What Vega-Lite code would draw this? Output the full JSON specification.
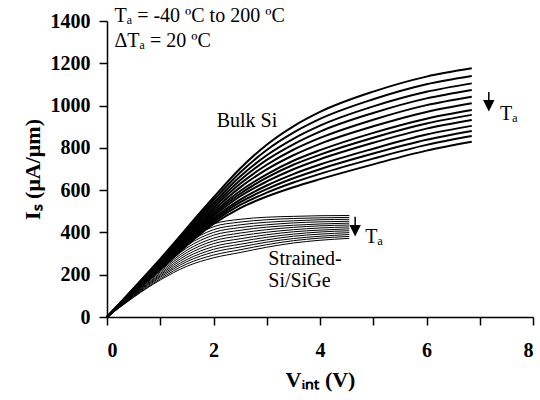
{
  "$schema": "https://vega.github.io/schema/vega-lite/v6.json",
  "autosize": "none",
  "width": 426,
  "height": 296,
  "padding": {"left": 107, "top": 21, "right": 7, "bottom": 83},
  "background": "white",
  "config": {
    "view": {"stroke": null},
    "font": "Liberation Serif",
    "axis": {
      "grid": false,
      "domainColor": "black",
      "domainWidth": 1.5,
      "tickColor": "black",
      "tickWidth": 1.5,
      "tickSize": 8,
      "labelFont": "Liberation Serif",
      "labelFontWeight": "bold",
      "labelFontSize": 20,
      "labelColor": "black",
      "titleFont": "Liberation Serif",
      "titleFontWeight": "bold",
      "titleFontSize": 22,
      "titleColor": "black"
    }
  },
  "datasets": {
    "bulk": [
      {"T":-40,"V":0,"I":0},{"T":-40,"V":1,"I":275},{"T":-40,"V":2,"I":565},{"T":-40,"V":2.5,"I":702},{"T":-40,"V":3,"I":815},{"T":-40,"V":3.5,"I":902},{"T":-40,"V":4,"I":970},{"T":-40,"V":5,"I":1066},{"T":-40,"V":6,"I":1137},{"T":-40,"V":6.85,"I":1176},
      {"T":-20,"V":0,"I":0},{"T":-20,"V":1,"I":270},{"T":-20,"V":2,"I":552},{"T":-20,"V":2.5,"I":683},{"T":-20,"V":3,"I":790},{"T":-20,"V":3.5,"I":872},{"T":-20,"V":4,"I":937},{"T":-20,"V":5,"I":1030},{"T":-20,"V":6,"I":1101},{"T":-20,"V":6.85,"I":1140},
      {"T":0,"V":0,"I":0},{"T":0,"V":1,"I":265},{"T":0,"V":2,"I":539},{"T":0,"V":2.5,"I":664},{"T":0,"V":3,"I":765},{"T":0,"V":3.5,"I":843},{"T":0,"V":4,"I":905},{"T":0,"V":5,"I":996},{"T":0,"V":6,"I":1065},{"T":0,"V":6.85,"I":1105},
      {"T":20,"V":0,"I":0},{"T":20,"V":1,"I":260},{"T":20,"V":2,"I":528},{"T":20,"V":2.5,"I":647},{"T":20,"V":3,"I":743},{"T":20,"V":3.5,"I":817},{"T":20,"V":4,"I":877},{"T":20,"V":5,"I":965},{"T":20,"V":6,"I":1034},{"T":20,"V":6.85,"I":1074},
      {"T":40,"V":0,"I":0},{"T":40,"V":1,"I":256},{"T":40,"V":2,"I":517},{"T":40,"V":2.5,"I":630},{"T":40,"V":3,"I":720},{"T":40,"V":3.5,"I":791},{"T":40,"V":4,"I":847},{"T":40,"V":5,"I":933},{"T":40,"V":6,"I":1002},{"T":40,"V":6.85,"I":1042},
      {"T":60,"V":0,"I":0},{"T":60,"V":1,"I":251},{"T":60,"V":2,"I":505},{"T":60,"V":2.5,"I":613},{"T":60,"V":3,"I":698},{"T":60,"V":3.5,"I":765},{"T":60,"V":4,"I":819},{"T":60,"V":5,"I":902},{"T":60,"V":6,"I":970},{"T":60,"V":6.85,"I":1011},
      {"T":80,"V":0,"I":0},{"T":80,"V":1,"I":247},{"T":80,"V":2,"I":494},{"T":80,"V":2.5,"I":596},{"T":80,"V":3,"I":675},{"T":80,"V":3.5,"I":739},{"T":80,"V":4,"I":789},{"T":80,"V":5,"I":871},{"T":80,"V":6,"I":938},{"T":80,"V":6.85,"I":979},
      {"T":100,"V":0,"I":0},{"T":100,"V":1,"I":243},{"T":100,"V":2,"I":486},{"T":100,"V":2.5,"I":583},{"T":100,"V":3,"I":659},{"T":100,"V":3.5,"I":720},{"T":100,"V":4,"I":768},{"T":100,"V":5,"I":848},{"T":100,"V":6,"I":915},{"T":100,"V":6.85,"I":956},
      {"T":120,"V":0,"I":0},{"T":120,"V":1,"I":240},{"T":120,"V":2,"I":477},{"T":120,"V":2.5,"I":571},{"T":120,"V":3,"I":641},{"T":120,"V":3.5,"I":699},{"T":120,"V":4,"I":746},{"T":120,"V":5,"I":824},{"T":120,"V":6,"I":891},{"T":120,"V":6.85,"I":932},
      {"T":140,"V":0,"I":0},{"T":140,"V":1,"I":236},{"T":140,"V":2,"I":467},{"T":140,"V":2.5,"I":555},{"T":140,"V":3,"I":622},{"T":140,"V":3.5,"I":676},{"T":140,"V":4,"I":721},{"T":140,"V":5,"I":796},{"T":140,"V":6,"I":863},{"T":140,"V":6.85,"I":904},
      {"T":160,"V":0,"I":0},{"T":160,"V":1,"I":232},{"T":160,"V":2,"I":458},{"T":160,"V":2.5,"I":543},{"T":160,"V":3,"I":605},{"T":160,"V":3.5,"I":656},{"T":160,"V":4,"I":699},{"T":160,"V":5,"I":773},{"T":160,"V":6,"I":838},{"T":160,"V":6.85,"I":880},
      {"T":180,"V":0,"I":0},{"T":180,"V":1,"I":229},{"T":180,"V":2,"I":450},{"T":180,"V":2.5,"I":530},{"T":180,"V":3,"I":588},{"T":180,"V":3.5,"I":636},{"T":180,"V":4,"I":677},{"T":180,"V":5,"I":749},{"T":180,"V":6,"I":814},{"T":180,"V":6.85,"I":856},
      {"T":200,"V":0,"I":0},{"T":200,"V":1,"I":225},{"T":200,"V":2,"I":440},{"T":200,"V":2.5,"I":515},{"T":200,"V":3,"I":570},{"T":200,"V":3.5,"I":614},{"T":200,"V":4,"I":652},{"T":200,"V":5,"I":722},{"T":200,"V":6,"I":787},{"T":200,"V":6.85,"I":829}
    ],
    "strained": [
      {"T":-40,"V":0,"I":0},{"T":-40,"V":1,"I":250},{"T":-40,"V":1.5,"I":370},{"T":-40,"V":2,"I":440},{"T":-40,"V":2.5,"I":462},{"T":-40,"V":3,"I":472},{"T":-40,"V":3.5,"I":476},{"T":-40,"V":4,"I":479},{"T":-40,"V":4.55,"I":480},
      {"T":-20,"V":0,"I":0},{"T":-20,"V":1,"I":244},{"T":-20,"V":1.5,"I":359},{"T":-20,"V":2,"I":427},{"T":-20,"V":2.5,"I":449},{"T":-20,"V":3,"I":460},{"T":-20,"V":3.5,"I":466},{"T":-20,"V":4,"I":469},{"T":-20,"V":4.55,"I":471},
      {"T":0,"V":0,"I":0},{"T":0,"V":1,"I":238},{"T":0,"V":1.5,"I":348},{"T":0,"V":2,"I":413},{"T":0,"V":2.5,"I":436},{"T":0,"V":3,"I":448},{"T":0,"V":3.5,"I":455},{"T":0,"V":4,"I":460},{"T":0,"V":4.55,"I":462},
      {"T":20,"V":0,"I":0},{"T":20,"V":1,"I":231},{"T":20,"V":1.5,"I":338},{"T":20,"V":2,"I":400},{"T":20,"V":2.5,"I":423},{"T":20,"V":3,"I":436},{"T":20,"V":3.5,"I":445},{"T":20,"V":4,"I":450},{"T":20,"V":4.55,"I":453},
      {"T":40,"V":0,"I":0},{"T":40,"V":1,"I":225},{"T":40,"V":1.5,"I":327},{"T":40,"V":2,"I":387},{"T":40,"V":2.5,"I":410},{"T":40,"V":3,"I":425},{"T":40,"V":3.5,"I":434},{"T":40,"V":4,"I":440},{"T":40,"V":4.55,"I":444},
      {"T":60,"V":0,"I":0},{"T":60,"V":1,"I":219},{"T":60,"V":1.5,"I":316},{"T":60,"V":2,"I":373},{"T":60,"V":2.5,"I":397},{"T":60,"V":3,"I":413},{"T":60,"V":3.5,"I":424},{"T":60,"V":4,"I":431},{"T":60,"V":4.55,"I":435},
      {"T":80,"V":0,"I":0},{"T":80,"V":1,"I":213},{"T":80,"V":1.5,"I":305},{"T":80,"V":2,"I":360},{"T":80,"V":2.5,"I":384},{"T":80,"V":3,"I":401},{"T":80,"V":3.5,"I":413},{"T":80,"V":4,"I":421},{"T":80,"V":4.55,"I":426},
      {"T":100,"V":0,"I":0},{"T":100,"V":1,"I":206},{"T":100,"V":1.5,"I":294},{"T":100,"V":2,"I":347},{"T":100,"V":2.5,"I":370},{"T":100,"V":3,"I":389},{"T":100,"V":3.5,"I":403},{"T":100,"V":4,"I":411},{"T":100,"V":4.55,"I":417},
      {"T":120,"V":0,"I":0},{"T":120,"V":1,"I":200},{"T":120,"V":1.5,"I":283},{"T":120,"V":2,"I":333},{"T":120,"V":2.5,"I":357},{"T":120,"V":3,"I":377},{"T":120,"V":3.5,"I":392},{"T":120,"V":4,"I":402},{"T":120,"V":4.55,"I":408},
      {"T":140,"V":0,"I":0},{"T":140,"V":1,"I":194},{"T":140,"V":1.5,"I":272},{"T":140,"V":2,"I":320},{"T":140,"V":2.5,"I":344},{"T":140,"V":3,"I":365},{"T":140,"V":3.5,"I":382},{"T":140,"V":4,"I":392},{"T":140,"V":4.55,"I":399},
      {"T":160,"V":0,"I":0},{"T":160,"V":1,"I":188},{"T":160,"V":1.5,"I":262},{"T":160,"V":2,"I":307},{"T":160,"V":2.5,"I":331},{"T":160,"V":3,"I":354},{"T":160,"V":3.5,"I":371},{"T":160,"V":4,"I":382},{"T":160,"V":4.55,"I":390},
      {"T":180,"V":0,"I":0},{"T":180,"V":1,"I":181},{"T":180,"V":1.5,"I":251},{"T":180,"V":2,"I":293},{"T":180,"V":2.5,"I":318},{"T":180,"V":3,"I":342},{"T":180,"V":3.5,"I":361},{"T":180,"V":4,"I":373},{"T":180,"V":4.55,"I":381},
      {"T":200,"V":0,"I":0},{"T":200,"V":1,"I":175},{"T":200,"V":1.5,"I":240},{"T":200,"V":2,"I":280},{"T":200,"V":2.5,"I":305},{"T":200,"V":3,"I":330},{"T":200,"V":3.5,"I":350},{"T":200,"V":4,"I":363},{"T":200,"V":4.55,"I":372}
    ],
    "labels": [
      {"text":"Tₐ = -40 ºC to 200 ºC","V":0.14,"I":1397},
      {"text":"ΔTₐ = 20 ºC","V":0.14,"I":1278},
      {"text":"Bulk Si","V":2.06,"I":900},
      {"text":"Tₐ","V":7.38,"I":932},
      {"text":"Tₐ","V":4.85,"I":350},
      {"text":"Strained-","V":3.03,"I":246},
      {"text":"Si/SiGe","V":3.03,"I":143}
    ],
    "arrows": [
      {"V":7.17,"I":1064,"I2":1020},
      {"V":4.66,"I":474,"I2":430}
    ],
    "heads": [
      {"V":7.17,"I":999},
      {"V":4.66,"I":408}
    ]
  },
  "encoding": {
    "x": {"field": "V", "type": "quantitative", "scale": {"domain": [0, 8], "nice": false},
      "axis": {"values": [0,1,2,3,4,5,6,7,8], "labelExpr": "datum.value % 2 === 0 ? datum.label : ''", "title": "Vᵢₙₜ (V)", "labelPadding": 15, "titlePadding": 9}},
    "y": {"field": "I", "type": "quantitative", "scale": {"domain": [0, 1400], "nice": false},
      "axis": {"values": [0,200,400,600,800,1000,1200,1400], "format": "d", "title": "Iₛ (μA/μm)", "labelPadding": 9, "titlePadding": 6}}
  },
  "layer": [
    {
      "data": {"name": "strained"},
      "mark": {"type": "line", "color": "black", "strokeWidth": 1, "interpolate": "monotone"},
      "encoding": {"detail": {"field": "T", "type": "nominal"}}
    },
    {
      "data": {"name": "bulk"},
      "mark": {"type": "line", "color": "black", "strokeWidth": 2, "interpolate": "monotone"},
      "encoding": {"detail": {"field": "T", "type": "nominal"}}
    },
    {
      "data": {"name": "labels"},
      "mark": {"type": "text", "font": "Liberation Serif", "fontSize": 20, "align": "left", "baseline": "alphabetic", "color": "black"},
      "encoding": {"text": {"field": "text", "type": "nominal"}}
    },
    {
      "data": {"name": "arrows"},
      "mark": {"type": "rule", "color": "black", "strokeWidth": 1.5},
      "encoding": {"y2": {"field": "I2"}}
    },
    {
      "data": {"name": "heads"},
      "mark": {"type": "point", "shape": "M-1,-1L1,-1L0,1Z", "filled": true, "color": "black", "size": 130, "opacity": 1},
      "encoding": {}
    }
  ]
}
